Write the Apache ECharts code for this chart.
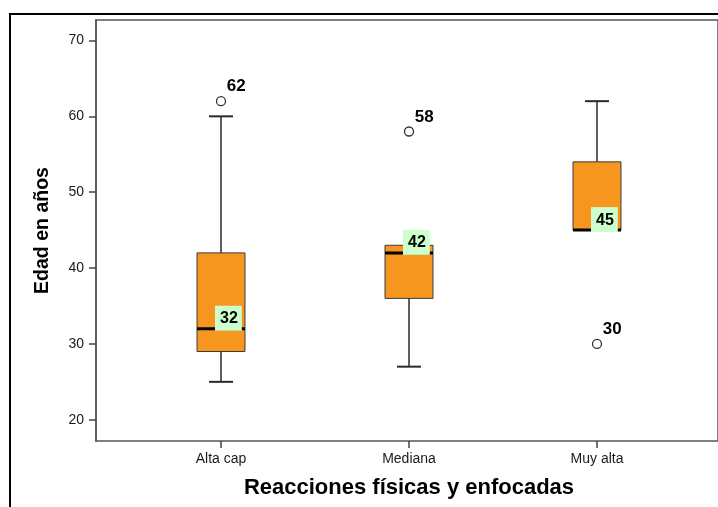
<!DOCTYPE html>
<html><head><meta charset="utf-8">
<script src="https://cdn.jsdelivr.net/npm/echarts@6/dist/echarts.min.js"></script>
<style>html,body{margin:0;padding:0;background:#fff}#c{width:718px;height:507px}</style>
</head><body><div id="c"></div>
<script>
const categories = ['Alta cap', 'Mediana', 'Muy alta'];
const whiskerLow = [25, 27, 45];
const q1 = [29, 36, 45];
const medians = [32, 42, 45];
const q3 = [42, 43, 54];
const whiskerHigh = [60, 43, 62];
const outlierCategory = [0, 1, 2];
const outlierValues = [62, 58, 30];
const yTicks = [20, 30, 40, 50, 60, 70];

const boxData = categories.map((c, i) => [i, whiskerLow[i], q1[i], medians[i], q3[i], whiskerHigh[i]]);
const outlierData = outlierCategory.map((c, i) => [c, outlierValues[i]]);

const FONT = 'Liberation Sans, Arial, sans-serif';
const chart = echarts.init(document.getElementById('c'), null, {renderer: 'canvas'});

function renderBox(params, api) {
  const x = api.value(0);
  const pLow = api.coord([x, api.value(1)]);
  const pQ1 = api.coord([x, api.value(2)]);
  const pMed = api.coord([x, api.value(3)]);
  const pQ3 = api.coord([x, api.value(4)]);
  const pHigh = api.coord([x, api.value(5)]);
  const band = api.size([1, 0])[0];
  const bw = band * 0.255;
  const cap = bw / 2;
  const cx = pMed[0];
  const lineStyle = {stroke: '#2a2a2a', lineWidth: 1.5};
  const children = [];
  if (pHigh[1] < pQ3[1] - 0.5) {
    children.push({type: 'line', shape: {x1: cx, y1: pQ3[1], x2: cx, y2: pHigh[1]}, style: lineStyle});
    children.push({type: 'line', shape: {x1: cx - cap / 2, y1: pHigh[1], x2: cx + cap / 2, y2: pHigh[1]}, style: {stroke: '#2a2a2a', lineWidth: 2}});
  }
  if (pLow[1] > pQ1[1] + 0.5) {
    children.push({type: 'line', shape: {x1: cx, y1: pQ1[1], x2: cx, y2: pLow[1]}, style: lineStyle});
    children.push({type: 'line', shape: {x1: cx - cap / 2, y1: pLow[1], x2: cx + cap / 2, y2: pLow[1]}, style: {stroke: '#2a2a2a', lineWidth: 2}});
  }
  children.push({type: 'rect', shape: {x: cx - bw / 2, y: pQ3[1], width: bw, height: pQ1[1] - pQ3[1]},
    style: {fill: '#F7961E', stroke: '#3a3a3a', lineWidth: 1}});
  children.push({type: 'line', shape: {x1: cx - bw / 2, y1: pMed[1], x2: cx + bw / 2, y2: pMed[1]},
    style: {stroke: '#000', lineWidth: 3}});
  children.push({type: 'text', x: cx - 6, y: pMed[1] + 2,
    style: {text: String(api.value(3)), fill: '#000', font: 'bold 16px ' + FONT,
      align: 'left', verticalAlign: 'bottom', backgroundColor: '#CCFFCC', padding: [4, 4, 3, 5], lineHeight: 18}});
  return {type: 'group', children};
}

chart.setOption({
  animation: false,
  textStyle: {fontFamily: FONT},
  graphic: [{type: 'rect', shape: {x: 10, y: 14, width: 800, height: 600},
    style: {fill: 'none', stroke: '#000', lineWidth: 2}, z: 10}],
  grid: [
    {left: 127, right: 27, top: 20, bottom: 66, show: false},
    {left: 96, right: -10, top: 20, bottom: 66, show: true, borderColor: '#555', borderWidth: 1.5, backgroundColor: 'transparent'}
  ],
  xAxis: [
    {type: 'category', gridIndex: 0, data: categories, boundaryGap: true,
      axisLine: {show: false},
      axisTick: {show: true, alignWithLabel: true, length: 7, lineStyle: {color: '#444', width: 1.5}},
      axisLabel: {margin: 11, fontSize: 14, color: '#1a1a1a'},
      name: 'Reacciones físicas y enfocadas', nameLocation: 'middle', nameGap: 36,
      nameTextStyle: {fontSize: 22, fontWeight: 'bold', color: '#000'}},
    {type: 'value', gridIndex: 1, show: false}
  ],
  yAxis: [
    {type: 'value', gridIndex: 0, min: 17.2, max: 72.7, offset: 31,
      axisLine: {show: true, lineStyle: {color: '#555', width: 1.5}},
      axisTick: {show: true, length: 7, customValues: yTicks, lineStyle: {color: '#444', width: 1.5}},
      axisLabel: {customValues: yTicks, margin: 12, fontSize: 14, color: '#1a1a1a'},
      splitLine: {show: false},
      name: 'Edad en años', nameLocation: 'middle', nameGap: 43,
      nameTextStyle: {fontSize: 19.5, fontWeight: 'bold', color: '#000'}},
    {type: 'value', gridIndex: 1, show: false}
  ],
  series: [
    {type: 'custom', xAxisIndex: 0, yAxisIndex: 0, data: boxData, renderItem: renderBox,
      encode: {x: 0, y: [1, 2, 3, 4, 5]}, z: 3},
    {type: 'scatter', xAxisIndex: 0, yAxisIndex: 0, data: outlierData, symbol: 'circle', symbolSize: 9,
      itemStyle: {color: '#fff', borderColor: '#333', borderWidth: 1.3, opacity: 1},
      label: {show: true, formatter: p => String(p.value[1]), position: [11, -18],
        fontSize: 17, fontWeight: 'bold', color: '#000'}, z: 4}
  ]
});
</script></body></html>
